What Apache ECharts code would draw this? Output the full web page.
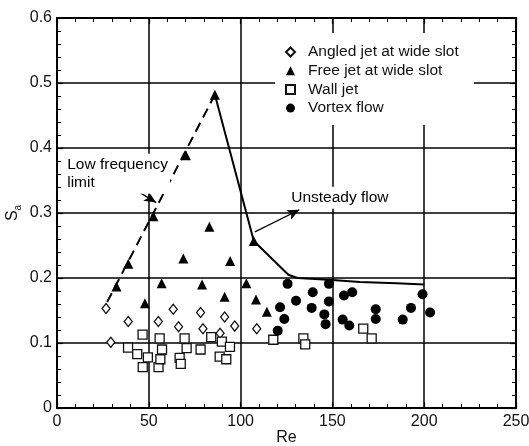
<!DOCTYPE html>
<html>
<head>
<meta charset="utf-8">
<script src="https://cdn.jsdelivr.net/npm/echarts@6/dist/echarts.min.js"></script>
<style>
  html, body {margin: 0; padding: 0; background: #fff;}
  #chart {width: 529px; height: 446px;}
</style>
</head>
<body>
<div id="chart"></div>
<script>
// values, [Re, Sa]
var angledJet = [
  [26.7, 0.153], [29.3, 0.101], [38.8, 0.133], [55.2, 0.133], [63.3, 0.152],
  [66.2, 0.125], [78.2, 0.147], [79.5, 0.122], [91.3, 0.140], [88.8, 0.115],
  [96.8, 0.126], [108.8, 0.122]
];
var freeJet = [
  [32.4, 0.187], [38.8, 0.222], [47.9, 0.161], [52.5, 0.295], [57, 0.192],
  [68.8, 0.230], [70.2, 0.389], [79, 0.190], [83, 0.279], [86, 0.482],
  [91.3, 0.171], [94.3, 0.226], [103.1, 0.192], [107.2, 0.257], [108.4, 0.167],
  [114.3, 0.148]
];
var wallJet = [
  [38.7, 0.093], [43.7, 0.083], [46.6, 0.113], [46.7, 0.063], [49.5, 0.078],
  [55.3, 0.063], [55.9, 0.107], [56.3, 0.075], [57.2, 0.090], [66.8, 0.077],
  [67.4, 0.068], [69.5, 0.107], [70.6, 0.092], [78.2, 0.090], [84.0, 0.109],
  [88.6, 0.079], [89.8, 0.102], [92.2, 0.075], [94.2, 0.094], [117.8, 0.105],
  [134.2, 0.107], [135.2, 0.098], [166.8, 0.122], [171.4, 0.107]
];
var vortexFlow = [
  [125.6, 0.191], [130.2, 0.165], [121.5, 0.155], [123.8, 0.137], [120.2, 0.119],
  [139.3, 0.178], [138.7, 0.154], [148.1, 0.191], [148.1, 0.164], [145.6, 0.144],
  [146.3, 0.129], [156.3, 0.173], [160.8, 0.178], [155.6, 0.136], [159.2, 0.127],
  [173.6, 0.152], [173.6, 0.137], [188.3, 0.136], [192.8, 0.154], [199.1, 0.175],
  [203.2, 0.147]
];
var lowFreqLine = [[27.3, 0.163], [86, 0.482]];
var unsteadyLine = [
  [86, 0.482], [107.2, 0.257], [126, 0.205], [131, 0.200], [150, 0.197],
  [165, 0.194], [185, 0.192], [200, 0.190]
];
var notes = [
  {text: 'Low frequency\nlimit', at: [4.2, 0.3605]},
  {text: 'Unsteady flow', at: [126.2, 0.3235]}
];
var arrows = [
  [[27.9, 0.3615], [54, 0.316]],
  [[107.8, 0.271], [132, 0.305]]
];
var seriesNames = ['Angled jet at wide slot', 'Free jet at wide slot', 'Wall jet', 'Vortex flow'];

var font = '"Liberation Sans", Arial, Helvetica, sans-serif';

function xAxisCfg(top) {
  return {
    type: 'value', min: 0, max: 250, interval: 50,
    position: top ? 'top' : 'bottom',
    axisLine: {show: true, onZero: false, lineStyle: {color: '#000', width: 2}},
    axisTick: {show: true, inside: true, length: 6, lineStyle: {color: '#000', width: 1.2}},
    minorTick: {show: true, splitNumber: 5, length: 4, lineStyle: {color: '#000', width: 1}},
    splitLine: {show: !top, lineStyle: {color: '#000', width: 1.5}},
    axisLabel: {show: !top, fontSize: 16, color: '#111', fontFamily: font, margin: 6},
    name: top ? '' : 'Re', nameLocation: 'middle', nameGap: 22, nameMoveOverlap: false,
    nameTextStyle: {fontSize: 16, color: '#111', fontFamily: font}
  };
}
function yAxisCfg(right) {
  return {
    type: 'value', min: 0, max: 0.6, interval: 0.1,
    position: right ? 'right' : 'left',
    axisLine: {show: true, onZero: false, lineStyle: {color: '#000', width: 2}},
    axisTick: {show: true, inside: true, length: 6, lineStyle: {color: '#000', width: 1.2}},
    minorTick: {show: true, splitNumber: 5, length: 4, lineStyle: {color: '#000', width: 1}},
    splitLine: {show: !right, lineStyle: {color: '#000', width: 1.5}},
    axisLabel: {
      show: !right, fontSize: 16, color: '#111', fontFamily: font, margin: 5,
      formatter: function(v) { return v === 0 ? '0' : v.toFixed(1); }
    },
    name: right ? '' : '{s|S}{a|a}', nameLocation: 'middle', nameGap: 34, nameRotate: 90,
    nameMoveOverlap: false,
    nameTextStyle: {
      fontFamily: font, color: '#111',
      rich: {
        s: {fontSize: 16, lineHeight: 20, fontFamily: font, color: '#111'},
        a: {fontSize: 10, lineHeight: 12, verticalAlign: 'bottom', fontFamily: font, color: '#111'}
      }
    }
  };
}

var hollow = {color: '#fff', borderColor: '#111', borderWidth: 1.3, opacity: 1};
var solid = {color: '#000', opacity: 1};

var chart = echarts.init(document.getElementById('chart'));
chart.setOption({
  animation: false,
  backgroundColor: '#fff',
  grid: {left: 57, right: 13, top: 18, bottom: 38, containLabel: false, outerBoundsMode: 'none'},
  xAxis: [xAxisCfg(false), xAxisCfg(true)],
  yAxis: [yAxisCfg(false), yAxisCfg(true)],
  legend: {
    data: seriesNames,
    orient: 'vertical',
    left: 275, top: 33,
    padding: [11, 15, 9, 10],
    backgroundColor: '#fff',
    itemWidth: 9, itemHeight: 9, itemGap: 2.7,
    textStyle: {fontSize: 15.5, lineHeight: 16, color: '#111', fontFamily: font, padding: [0, 0, 0, 8]}
  },
  series: [
    {
      name: 'lowFreq', type: 'line', data: lowFreqLine, showSymbol: false, silent: true,
      lineStyle: {color: '#000', width: 2, type: [10, 6]}
    },
    {
      name: 'unsteady', type: 'line', data: unsteadyLine, showSymbol: false, silent: true,
      lineStyle: {color: '#000', width: 2}
    },
    {name: seriesNames[0], type: 'scatter', symbol: 'diamond', symbolSize: [8, 10], data: angledJet, itemStyle: hollow},
    {name: seriesNames[1], type: 'scatter', symbol: 'triangle', symbolSize: 10, data: freeJet, itemStyle: solid},
    {name: seriesNames[2], type: 'scatter', symbol: 'rect', symbolSize: 9, data: wallJet, itemStyle: hollow},
    {name: seriesNames[3], type: 'scatter', symbol: 'circle', symbolSize: 10, data: vortexFlow, itemStyle: solid},
    {
      name: 'notes', type: 'scatter', symbolSize: 1, silent: true, z: 5,
      itemStyle: {color: '#fff', opacity: 1},
      data: notes.map(function(n) { return {value: n.at, name: n.text}; }),
      label: {
        show: true, position: 'right', distance: 0,
        formatter: function(p) { return p.name; },
        fontSize: 15.5, lineHeight: 18, color: '#000', opacity: 1, fontFamily: font,
        backgroundColor: '#fff', padding: [2, 2]
      },
      markLine: {
        silent: true, symbol: ['none', 'arrow'], symbolSize: [8, 12],
        label: {show: false},
        itemStyle: {color: '#000', opacity: 1},
        lineStyle: {color: '#000', width: 1.3, type: 'solid', opacity: 1},
        data: arrows.map(function(a) { return [{coord: a[0]}, {coord: a[1]}]; })
      }
    }
  ]
});
</script>
</body>
</html>
